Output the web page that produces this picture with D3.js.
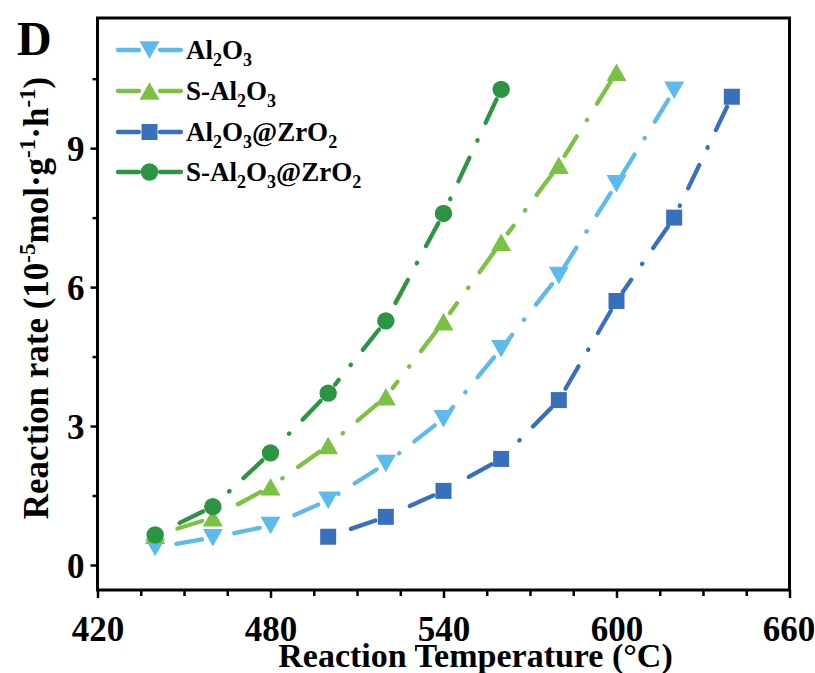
<!DOCTYPE html>
<html>
<head>
<meta charset="utf-8">
<script src="https://cdn.jsdelivr.net/npm/d3@7"></script>
<style>
  body { margin: 0; background: #fff; }
  svg { display: block; font-family: "Liberation Serif", "Times New Roman", serif; font-weight: bold; }
</style>
</head>
<body>
<svg id="chart" width="815" height="673"></svg>
<script>
// temperatures (°C) and rates (1e-5 mol g-1 h-1)
const tempsAl = [440, 460, 480, 500, 520, 540, 560, 580, 600, 620];
const rateAl = [0.38, 0.59, 0.85, 1.40, 2.19, 3.16, 4.67, 6.25, 8.23, 10.25];
const tempsSAl = [440, 460, 480, 500, 520, 540, 560, 580, 600];
const rateSAl = [0.64, 1.02, 1.69, 2.58, 3.63, 5.25, 6.97, 8.63, 10.64];
const tempsAlZr = [500, 520, 540, 560, 580, 600, 620, 640];
const rateAlZr = [0.61, 1.04, 1.60, 2.29, 3.56, 5.70, 7.50, 10.11];
const tempsSAlZr = [440, 460, 480, 500, 520, 540, 560];
const rateSAlZr = [0.65, 1.26, 2.42, 3.71, 5.27, 7.59, 10.27];

const xTicks = [420, 480, 540, 600, 660];
const yTicks = [0, 3, 6, 9];

const series = [
  { name: ['Al', '2', 'O', '3'], temps: tempsAl, rates: rateAl, color: '#5cbbec', symbol: 'down' },
  { name: ['S-Al', '2', 'O', '3'], temps: tempsSAl, rates: rateSAl, color: '#7bc143', symbol: 'up' },
  { name: ['Al', '2', 'O', '3', '@ZrO', '2'], temps: tempsAlZr, rates: rateAlZr, color: '#3870be', symbol: 'square' },
  { name: ['S-Al', '2', 'O', '3', '@ZrO', '2'], temps: tempsSAlZr, rates: rateSAlZr, color: '#2b9542', symbol: 'circle' }
];

const svg = d3.select('#chart');
const plotLeft = 97.5, plotRight = 789.5, plotTop = 18, plotBottom = 590;

const x = d3.scaleLinear().domain([420, 660]).range([plotLeft, plotRight]);
const y = d3.scaleLinear().domain([-0.54, 11.81]).range([plotBottom, plotTop]);

// markers
function drawSymbol(g, kind, cx, cy, color) {
  if (kind === 'circle') {
    g.append('circle').attr('cx', cx).attr('cy', cy).attr('r', 8.7).attr('fill', color);
  } else if (kind === 'square') {
    g.append('rect').attr('x', cx - 8).attr('y', cy - 8).attr('width', 16).attr('height', 16).attr('fill', color);
  } else {
    const w = 10, h = 17.5;
    const s = kind === 'up' ? -1 : 1;
    g.append('path')
      .attr('d', `M${cx - w},${cy - s * h / 2}L${cx + w},${cy - s * h / 2}L${cx},${cy + s * h / 2}Z`)
      .attr('fill', color);
  }
}

const plot = svg.append('g');

series.forEach(function (s) {
  const pts = s.temps.map(function (t, i) { return [x(t), y(s.rates[i])]; });
  const g = plot.append('g');
  const gap = 11;
  for (let i = 0; i < pts.length - 1; i++) {
    const [x1, y1] = pts[i], [x2, y2] = pts[i + 1];
    const len = Math.hypot(x2 - x1, y2 - y1);
    if (len <= 2 * gap) continue;
    const ux = (x2 - x1) / len, uy = (y2 - y1) / len;
    // start from the upper point so each segment begins with a dash
    g.append('line')
      .attr('x1', x2 - ux * gap).attr('y1', y2 - uy * gap)
      .attr('x2', x1 + ux * gap).attr('y2', y1 + uy * gap)
      .attr('stroke', s.color)
      .attr('stroke-width', 4.3)
      .attr('stroke-linecap', 'round')
      .attr('stroke-dasharray', '26,19,0.5,19');
  }
  pts.forEach(function (p) { drawSymbol(g, s.symbol, p[0], p[1], s.color); });
});

// axes
const xAxis = svg.append('g').attr('transform', `translate(0,${plotBottom})`)
  .call(d3.axisBottom(x).tickValues(xTicks).tickSize(8).tickSizeOuter(0).tickFormat(d3.format('d')));
const xMinor = svg.append('g').attr('transform', `translate(0,${plotBottom})`)
  .call(d3.axisBottom(x).tickValues(d3.range(435, 660, 15).filter(function (v) { return v % 60 !== 0; }))
    .tickSize(6).tickSizeOuter(0).tickFormat(''));
const yAxis = svg.append('g').attr('transform', `translate(${plotLeft},0)`)
  .call(d3.axisLeft(y).tickValues(yTicks).tickSize(7).tickSizeOuter(0).tickPadding(6));
const yMinor = svg.append('g').attr('transform', `translate(${plotLeft},0)`)
  .call(d3.axisLeft(y).tickValues([1.5, 4.5, 7.5, 10.5]).tickSize(5).tickSizeOuter(0).tickFormat(''));

[xAxis, xMinor, yAxis, yMinor].forEach(function (a) {
  a.select('.domain').remove();
  a.selectAll('.tick line').attr('stroke', '#000').attr('stroke-width', 2.5);
  a.selectAll('.tick text').attr('fill', '#000')
    .style('font-family', '"Liberation Serif", serif').style('font-weight', 'bold').style('font-size', '35px');
});
yAxis.selectAll('.tick text').attr('dy', '0.35em');
xAxis.selectAll('.tick text').attr('y', 51).attr('dy', 0);
xAxis.selectAll('.tick:last-of-type text').attr('dx', -1);

svg.append('rect')
  .attr('x', plotLeft).attr('y', plotTop).attr('width', plotRight - plotLeft).attr('height', plotBottom - plotTop)
  .attr('fill', 'none').attr('stroke', '#000').attr('stroke-width', 3);

// axis titles
svg.append('text')
  .attr('x', 475.5).attr('y', 667)
  .attr('text-anchor', 'middle').style('font-size', '34px')
  .text('Reaction Temperature (°C)');

const yt = svg.append('text')
  .attr('transform', 'translate(48,298) rotate(-90)')
  .attr('text-anchor', 'middle').style('font-size', '35px');
yt.append('tspan').text('Reaction rate (10');
yt.append('tspan').attr('dy', -13).style('font-size', '23px').text('-5');
yt.append('tspan').attr('dy', 13).text('mol·g');
yt.append('tspan').attr('dy', -13).style('font-size', '23px').text('-1');
yt.append('tspan').attr('dy', 13).text('·h');
yt.append('tspan').attr('dy', -13).style('font-size', '23px').text('-1');
yt.append('tspan').attr('dy', 13).text(')');

// panel letter
svg.append('text').attr('x', 17).attr('y', 55).style('font-size', '48px').text('D');

// legend
const legendY = [50, 91, 132, 172];
series.forEach(function (s, i) {
  const g = svg.append('g');
  const ly = legendY[i];
  g.append('line').attr('x1', 118).attr('x2', 139).attr('y1', ly).attr('y2', ly)
    .attr('stroke', s.color).attr('stroke-width', 4.3).attr('stroke-linecap', 'round');
  g.append('line').attr('x1', 160).attr('x2', 181).attr('y1', ly).attr('y2', ly)
    .attr('stroke', s.color).attr('stroke-width', 4.3).attr('stroke-linecap', 'round');
  drawSymbol(g, s.symbol, 149.5, ly, s.color);
  const t = g.append('text').attr('x', 186).attr('y', ly + 9).style('font-size', '27px');
  s.name.forEach(function (part, j) {
    const sub = j % 2 === 1;
    t.append('tspan')
      .attr('dy', j === 0 ? 0 : (sub ? 7 : -7))
      .style('font-size', sub ? '18px' : '27px')
      .text(part);
  });
});
</script>
</body>
</html>
